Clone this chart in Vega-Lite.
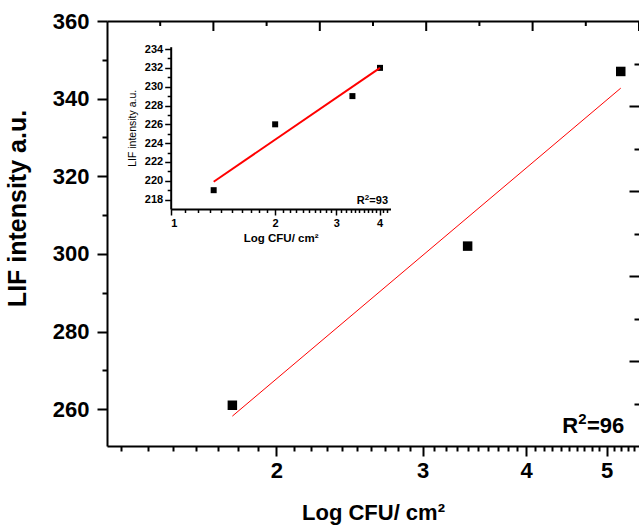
{
  "$schema": "https://vega.github.io/schema/vega-lite/v6.json",
  "width": 532,
  "height": 425,
  "autosize": {"type": "none"},
  "padding": {"left": 107, "top": 21, "right": 0, "bottom": 82},
  "background": "white",
  "config": {
    "view": {"stroke": null},
    "axis": {
      "labelFont": "Liberation Sans",
      "titleFont": "Liberation Sans",
      "labelFontWeight": "bold",
      "titleFontWeight": "bold",
      "labelColor": "black",
      "titleColor": "black",
      "domainColor": "black",
      "tickColor": "black",
      "grid": false,
      "domainWidth": 2,
      "tickWidth": 2,
      "labelOverlap": false
    },
    "text": {"font": "Liberation Sans"}
  },
  "datasets": {
    "main": [
      {"logcfu": 1.77, "lif": 261},
      {"logcfu": 3.4, "lif": 302},
      {"logcfu": 5.2, "lif": 347}
    ],
    "mainfit": [
      {"logcfu": 1.77, "lif": 258.2},
      {"logcfu": 5.2, "lif": 342.7}
    ],
    "mainr2": [{"logcfu": 5.25, "lif": 253.8, "r": "R", "sup": "2", "rest": "=96"}],
    "inset": [
      {"logcfu": 1.33, "lif": 219},
      {"logcfu": 2.0, "lif": 226},
      {"logcfu": 3.34, "lif": 229},
      {"logcfu": 4.01, "lif": 232}
    ],
    "insetfit": [
      {"logcfu": 1.33, "lif": 219.9},
      {"logcfu": 4.01, "lif": 232.0}
    ],
    "insetr2": [{"logcfu": 4.23, "lif": 217.5, "r": "R", "sup": "2", "rest": "=93"}],
    "topticks": [
      {"t": 0.5, "kind": "minor"}, {"t": 1, "kind": "major"},
      {"t": 1.5, "kind": "minor"}, {"t": 2, "kind": "major"},
      {"t": 2.5, "kind": "minor"}, {"t": 3, "kind": "major"},
      {"t": 3.5, "kind": "minor"}, {"t": 4, "kind": "major"},
      {"t": 4.5, "kind": "minor"}, {"t": 5, "kind": "major"}
    ],
    "frame": [{"a": 2, "b": 2}]
  },
  "layer": [
    {
      "layer": [
        {
          "data": {"name": "main"},
          "mark": {"type": "square", "size": 90, "color": "black", "opacity": 1, "filled": true},
          "encoding": {
            "x": {
              "field": "logcfu", "type": "quantitative",
              "scale": {"type": "log", "domain": [1.25, 5.47], "nice": false},
              "axis": {
                "orient": "bottom",
                "values": [1.3, 1.4, 1.5, 1.6, 1.7, 1.8, 1.9, 2, 2.1, 2.2, 2.3, 2.4, 2.5, 2.6, 2.7, 2.8, 2.9, 3, 3.1, 3.2, 3.3, 3.4, 3.5, 3.6, 3.7, 3.8, 3.9, 4, 4.1, 4.2, 4.3, 4.4, 4.5, 4.6, 4.7, 4.8, 4.9, 5, 5.1, 5.2, 5.3, 5.4],
                "tickCount": 200,
                "tickMinStep": 0.01,
                "format": "d",
                "labelExpr": "datum.value % 1 === 0 ? datum.label : ''",
                "tickSize": {"condition": {"test": "datum.value % 1 === 0", "value": 10}, "value": 5},
                "labelFontSize": 22, "labelPadding": 4,
                "title": "Log CFU/ cm²", "titleFontSize": 22, "titlePadding": 21
              }
            },
            "y": {
              "field": "lif", "type": "quantitative",
              "scale": {"domain": [250.5, 360], "nice": false, "zero": false},
              "axis": {
                "orient": "left",
                "values": [260, 270, 280, 290, 300, 310, 320, 330, 340, 350, 360],
                "tickCount": 200,
                "tickMinStep": 0.01,
                "format": "d",
                "labelExpr": "datum.value % 20 === 0 ? datum.label : ''",
                "tickSize": {"condition": {"test": "datum.value % 20 === 0", "value": 10}, "value": 5},
                "labelFontSize": 22, "labelPadding": 8,
                "title": "LIF intensity a.u.", "titleFontSize": 25, "titlePadding": 22, "titleY": 187
              }
            }
          }
        },
        {
          "data": {"name": "mainfit"},
          "mark": {"type": "line", "color": "red", "strokeWidth": 1},
          "encoding": {
            "x": {"field": "logcfu", "type": "quantitative", "scale": {"type": "log", "domain": [1.25, 5.47], "nice": false}},
            "y": {"field": "lif", "type": "quantitative", "scale": {"domain": [250.5, 360], "nice": false, "zero": false}}
          }
        },
        {
          "data": {"name": "mainr2"},
          "mark": {"type": "text", "align": "right", "baseline": "alphabetic", "fontSize": 22, "fontWeight": "bold", "color": "black"},
          "encoding": {
            "x": {"field": "logcfu", "type": "quantitative", "scale": {"type": "log", "domain": [1.25, 5.47], "nice": false}},
            "y": {"field": "lif", "type": "quantitative", "scale": {"domain": [250.5, 360], "nice": false, "zero": false}},
            "text": {"field": "rest"}
          }
        },
        {
          "data": {"name": "mainr2"},
          "mark": {"type": "text", "align": "right", "baseline": "alphabetic", "fontSize": 15, "fontWeight": "bold", "color": "black", "dx": -37.5, "dy": -9},
          "encoding": {
            "x": {"field": "logcfu", "type": "quantitative", "scale": {"type": "log", "domain": [1.25, 5.47], "nice": false}},
            "y": {"field": "lif", "type": "quantitative", "scale": {"domain": [250.5, 360], "nice": false, "zero": false}},
            "text": {"field": "sup"}
          }
        },
        {
          "data": {"name": "mainr2"},
          "mark": {"type": "text", "align": "right", "baseline": "alphabetic", "fontSize": 22, "fontWeight": "bold", "color": "black", "dx": -46},
          "encoding": {
            "x": {"field": "logcfu", "type": "quantitative", "scale": {"type": "log", "domain": [1.25, 5.47], "nice": false}},
            "y": {"field": "lif", "type": "quantitative", "scale": {"domain": [250.5, 360], "nice": false, "zero": false}},
            "text": {"field": "r"}
          }
        }
      ]
    },
    {
      "layer": [
        {
          "data": {"name": "frame"},
          "mark": {"type": "point", "opacity": 0},
          "encoding": {
            "x": {
              "field": "a", "type": "quantitative",
              "scale": {"domain": [0, 5], "nice": false, "zero": false},
              "axis": {"orient": "top", "ticks": false, "labels": false, "domain": true, "title": null}
            },
            "y": {
              "field": "b", "type": "quantitative",
              "scale": {"domain": [0, 10], "reverse": true, "nice": false, "zero": false},
              "axis": {
                "orient": "right",
                "values": [1, 2, 3, 4, 5, 6, 7, 8, 9],
                "tickCount": 200,
                "tickMinStep": 0.01,
                "tickSize": {"condition": {"test": "datum.value % 2 === 0", "value": -10}, "value": -5},
                "labels": false, "domain": false, "title": null
              }
            }
          }
        }
      ]
    },
    {
      "layer": [
        {
          "data": {"name": "topticks"},
          "transform": [{"filter": "datum.kind === 'major'"}],
          "mark": {"type": "tick", "orient": "vertical", "size": 10, "thickness": 2, "color": "black", "opacity": 1},
          "encoding": {
            "x": {"field": "t", "type": "quantitative", "scale": {"domain": [0, 5], "nice": false, "zero": false}, "axis": null},
            "y": {"datum": 358.71, "type": "quantitative", "scale": {"domain": [250.5, 360], "nice": false, "zero": false}, "axis": null}
          }
        },
        {
          "data": {"name": "topticks"},
          "transform": [{"filter": "datum.kind === 'minor'"}],
          "mark": {"type": "tick", "orient": "vertical", "size": 5, "thickness": 2, "color": "black", "opacity": 1},
          "encoding": {
            "x": {"field": "t", "type": "quantitative", "scale": {"domain": [0, 5], "nice": false, "zero": false}, "axis": null},
            "y": {"datum": 359.36, "type": "quantitative", "scale": {"domain": [250.5, 360], "nice": false, "zero": false}, "axis": null}
          }
        }
      ]
    },
    {
      "layer": [
        {
          "data": {"name": "inset"},
          "mark": {"type": "square", "size": 36, "color": "black", "opacity": 1, "filled": true},
          "encoding": {
            "x": {
              "field": "logcfu", "type": "quantitative",
              "scale": {"type": "log", "domain": [1, 4.3], "range": [63.7, 283.5], "nice": false},
              "axis": {
                "orient": "bottom", "offset": -237,
                "values": [1, 1.1, 1.2, 1.3, 1.4, 1.5, 1.6, 1.7, 1.8, 1.9, 2, 2.1, 2.2, 2.3, 2.4, 2.5, 2.6, 2.7, 2.8, 2.9, 3, 3.1, 3.2, 3.3, 3.4, 3.5, 3.6, 3.7, 3.8, 3.9, 4, 4.1, 4.2],
                "tickCount": 200,
                "tickMinStep": 0.01,
                "format": "d",
                "labelExpr": "datum.value % 1 === 0 ? datum.label : ''",
                "tickSize": {"condition": {"test": "datum.value % 1 === 0", "value": 6}, "value": 3.5},
                "tickWidth": 1.5, "labelFontSize": 11, "labelPadding": 2,
                "title": "Log CFU/ cm²", "titleFontSize": 11.5, "titlePadding": 4
              }
            },
            "y": {
              "field": "lif", "type": "quantitative",
              "scale": {"domain": [217, 234.25], "range": [188, 25.7], "nice": false, "zero": false},
              "axis": {
                "orient": "left", "offset": -63.7,
                "values": [218, 219, 220, 221, 222, 223, 224, 225, 226, 227, 228, 229, 230, 231, 232, 233, 234],
                "tickCount": 200,
                "tickMinStep": 0.01,
                "format": "d",
                "labelExpr": "datum.value % 2 === 0 ? datum.label : ''",
                "tickSize": {"condition": {"test": "datum.value % 2 === 0", "value": 6}, "value": 3.5},
                "tickWidth": 1.5, "labelFontSize": 11, "labelPadding": 2,
                "title": "LIF intensity a.u.", "titleFontSize": 10.5, "titleFontWeight": "normal", "titlePadding": 7
              }
            }
          }
        },
        {
          "data": {"name": "insetfit"},
          "mark": {"type": "line", "color": "red", "strokeWidth": 2},
          "encoding": {
            "x": {"field": "logcfu", "type": "quantitative", "scale": {"type": "log", "domain": [1, 4.3], "range": [63.7, 283.5], "nice": false}},
            "y": {"field": "lif", "type": "quantitative", "scale": {"domain": [217, 234.25], "range": [188, 25.7], "nice": false, "zero": false}}
          }
        },
        {
          "data": {"name": "insetr2"},
          "mark": {"type": "text", "align": "right", "baseline": "alphabetic", "fontSize": 11, "fontWeight": "bold", "color": "black"},
          "encoding": {
            "x": {"field": "logcfu", "type": "quantitative", "scale": {"type": "log", "domain": [1, 4.3], "range": [63.7, 283.5], "nice": false}},
            "y": {"field": "lif", "type": "quantitative", "scale": {"domain": [217, 234.25], "range": [188, 25.7], "nice": false, "zero": false}},
            "text": {"field": "rest"}
          }
        },
        {
          "data": {"name": "insetr2"},
          "mark": {"type": "text", "align": "right", "baseline": "alphabetic", "fontSize": 8, "fontWeight": "bold", "color": "black", "dx": -18.7, "dy": -4.5},
          "encoding": {
            "x": {"field": "logcfu", "type": "quantitative", "scale": {"type": "log", "domain": [1, 4.3], "range": [63.7, 283.5], "nice": false}},
            "y": {"field": "lif", "type": "quantitative", "scale": {"domain": [217, 234.25], "range": [188, 25.7], "nice": false, "zero": false}},
            "text": {"field": "sup"}
          }
        },
        {
          "data": {"name": "insetr2"},
          "mark": {"type": "text", "align": "right", "baseline": "alphabetic", "fontSize": 11, "fontWeight": "bold", "color": "black", "dx": -23.2},
          "encoding": {
            "x": {"field": "logcfu", "type": "quantitative", "scale": {"type": "log", "domain": [1, 4.3], "range": [63.7, 283.5], "nice": false}},
            "y": {"field": "lif", "type": "quantitative", "scale": {"domain": [217, 234.25], "range": [188, 25.7], "nice": false, "zero": false}},
            "text": {"field": "r"}
          }
        }
      ]
    }
  ],
  "resolve": {"scale": {"x": "independent", "y": "independent"}}
}
